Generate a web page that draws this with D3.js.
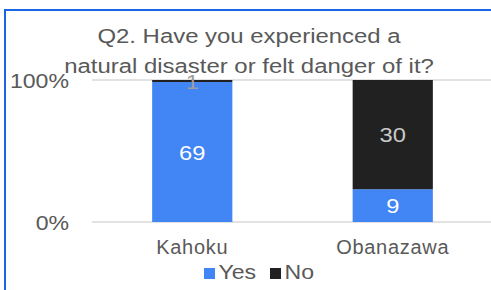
<!DOCTYPE html>
<html>
<head>
<meta charset="utf-8">
<script src="https://cdn.jsdelivr.net/npm/d3@7"></script>
<style>
  html, body { margin:0; padding:0; background:#fff; }
  svg { display:block; font-family:"Liberation Sans", Arial, sans-serif; }
</style>
</head>
<body>
<div id="chart"></div>
<script>
/* Q2 stacked 100% bars — d3 only, data inline */

const CATEGORIES = ["Kahoku", "Obanazawa"];
const SERIES = ["Yes", "No"];
const YES = [69, 9];
const NO = [1, 30];
const Y_TICKS = [0, 1];
const TITLE = ["Q2. Have you experienced a", "natural disaster or felt danger of it?"];

const COLORS = { Yes:"#4285f4", No:"#212121" };
const LABEL_COLORS = { Yes:"#ffffff", No:"#c9c9c9" };

const W = 491, H = 290;
const M = { top:80, right:-2, bottom:68, left:92 };

const rows = CATEGORIES.map((c, i) => ({ cat:c, Yes:YES[i], No:NO[i] }));
const stacked = d3.stack().keys(SERIES).offset(d3.stackOffsetExpand)(rows);

const x = d3.scaleBand().domain(CATEGORIES).range([M.left, W - M.right]).paddingInner(0.6).paddingOuter(0.3);
const y = d3.scaleLinear().domain([0, 1]).range([H - M.bottom, M.top]);

const svg = d3.select("#chart").append("svg").attr("width", W).attr("height", H);

// text in the source is a little wider than Liberation Sans, stretch it
const at = (px, py, sx) => `translate(${px},${py}) scale(${sx},1)`;

// selection frame around the chart
svg.append("path").attr("d", `M5,${H} L5,10 L${W},10`)
  .attr("fill", "none").attr("stroke", "#1a66e6").attr("stroke-width", 2);

// gridlines
svg.append("g").selectAll("line").data(Y_TICKS).enter().append("line")
  .attr("x1", M.left).attr("x2", W)
  .attr("y1", d => y(d)).attr("y2", d => y(d))
  .attr("stroke", "#d9d9d9").attr("stroke-width", 1.5);

// y labels
svg.append("g").selectAll("text").data(Y_TICKS).enter().append("text")
  .attr("transform", d => at(69, y(d) + 7.5, 1.1)).attr("text-anchor", "end")
  .attr("font-size", 21).attr("fill", "#595959")
  .text(d => d3.format(".0%")(d));

// bars
const layers = svg.append("g").selectAll("g").data(stacked).enter().append("g")
  .attr("fill", d => COLORS[d.key]);
layers.selectAll("rect").data(d => d).enter().append("rect")
  .attr("x", d => x(d.data.cat)).attr("width", x.bandwidth())
  .attr("y", d => y(d[1])).attr("height", d => y(d[0]) - y(d[1]));

// data labels
stacked.forEach(s => {
  svg.append("g").selectAll("text").data(s).enter().append("text")
    .attr("transform", d => at(x(d.data.cat) + x.bandwidth() / 2, (y(d[0]) + y(d[1])) / 2 + 7.5, 1.13))
    .attr("text-anchor", "middle").attr("font-size", 21)
    .attr("fill", d => (y(d[0]) - y(d[1]) < 10) ? "#9e9e9e" : LABEL_COLORS[s.key])
    .text(d => d.data[s.key]);
});

// category labels
svg.append("g").selectAll("text").data(CATEGORIES).enter().append("text")
  .attr("x", d => x(d) + x.bandwidth() / 2).attr("y", 254)
  .attr("text-anchor", "middle").attr("font-size", 20).attr("letter-spacing", 0.7)
  .attr("fill", "#595959").text(d => d);

// title
svg.append("g").selectAll("text").data(TITLE).enter().append("text")
  .attr("transform", (d, i) => at(249, 43 + i * 30, 1.14)).attr("text-anchor", "middle")
  .attr("font-size", 21).attr("fill", "#595959").text(d => d);

// legend
const leg = svg.append("g").selectAll("g").data(SERIES).enter().append("g")
  .attr("transform", (d, i) => `translate(${[204, 270][i]},0)`);
leg.append("rect").attr("x", 0).attr("y", 268).attr("width", 11).attr("height", 11)
  .attr("fill", d => COLORS[d]);
leg.append("text").attr("transform", at(14.5, 279, 1.1)).attr("font-size", 21)
  .attr("fill", "#595959").text(d => d);
</script>
</body>
</html>
